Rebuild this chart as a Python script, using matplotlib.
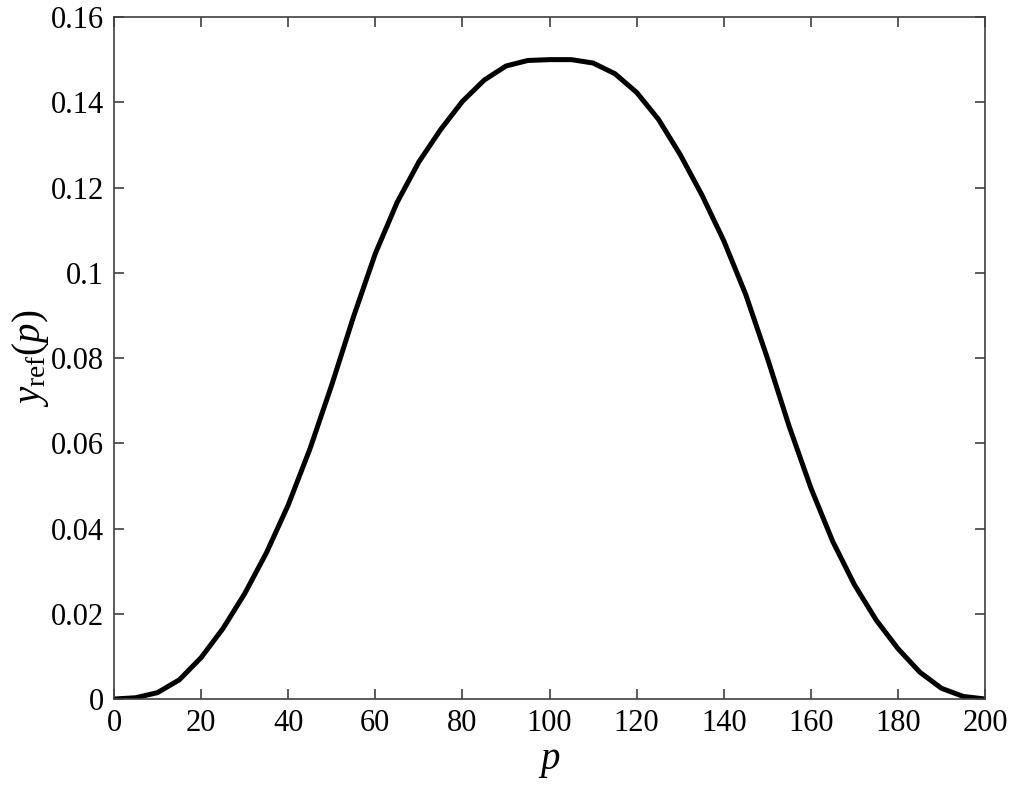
import matplotlib
matplotlib.use("Agg")
import matplotlib.pyplot as plt

p_values = [0, 5, 10, 15, 20, 25, 30, 35, 40, 45, 50, 55, 60, 65, 70, 75, 80, 85, 90, 95,
            100, 105, 110, 115, 120, 125, 130, 135, 140, 145, 150, 155, 160, 165, 170, 175,
            180, 185, 190, 195, 200]
y_ref = [0.0, 0.0003, 0.0015, 0.0045, 0.0097, 0.0165, 0.0247, 0.0343, 0.0455, 0.0587,
         0.0737, 0.0897, 0.1045, 0.1165, 0.1260, 0.1336, 0.1402, 0.1452, 0.1485, 0.1498,
         0.1500, 0.1500, 0.1492, 0.1467, 0.1423, 0.1360, 0.1277, 0.1182, 0.1075, 0.0950,
         0.0800, 0.0640, 0.0495, 0.0370, 0.0268, 0.0185, 0.0118, 0.0063, 0.0025, 0.0006, 0.0]

x_ticks = [0, 20, 40, 60, 80, 100, 120, 140, 160, 180, 200]
y_ticks = [0, 0.02, 0.04, 0.06, 0.08, 0.1, 0.12, 0.14, 0.16]
y_tick_labels = ["0", "0.02", "0.04", "0.06", "0.08", "0.1", "0.12", "0.14", "0.16"]

plt.rcParams['font.family'] = ['Liberation Serif', 'DejaVu Serif']
plt.rcParams['mathtext.fontset'] = 'custom'
plt.rcParams['mathtext.rm'] = 'Liberation Serif'
plt.rcParams['mathtext.it'] = 'Liberation Serif:italic'

fig = plt.figure(figsize=(10.13, 7.87), dpi=100)
ax = fig.add_axes([0.1125, 0.1118, 0.86, 0.8666])

ax.plot(p_values, y_ref, color='black', lw=3.6, solid_capstyle='round', solid_joinstyle='round')

ax.set_xlim(0, 200)
ax.set_ylim(0, 0.16)
ax.set_xticks(x_ticks)
ax.set_yticks(y_ticks)
ax.set_yticklabels(y_tick_labels)

spine_color = '#404040'
for s in ax.spines.values():
    s.set_color(spine_color)
    s.set_linewidth(1.2)

ax.tick_params(direction='in', length=7, width=1.2, color=spine_color,
               top=True, right=True, labelsize=22, labelcolor='black', pad=7)

ax.set_xlabel(r'$p$', fontsize=28, labelpad=4)
ax.set_ylabel(r'$y_{\mathrm{ref}}(p)$', fontsize=28, labelpad=0)

fig.savefig('out.png', dpi=100)
